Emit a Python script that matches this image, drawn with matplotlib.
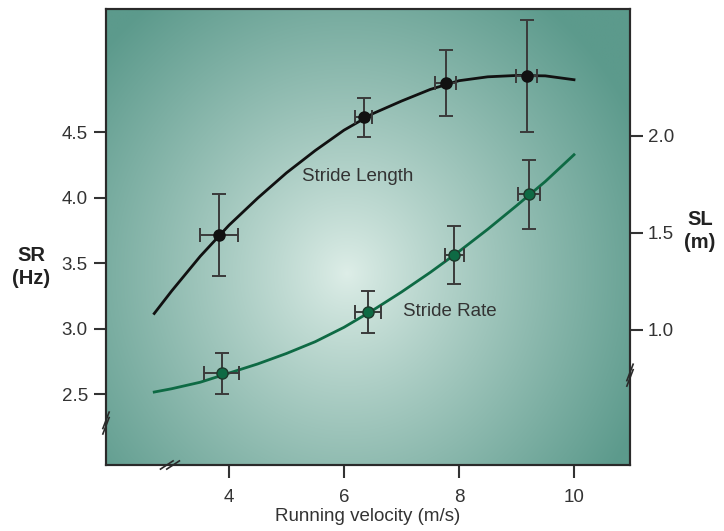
import numpy as np
import matplotlib
matplotlib.use("Agg")
import matplotlib.pyplot as plt

plt.rcParams['font.family'] = ['Liberation Sans', 'DejaVu Sans']

# ---- data ----
sl_velocity = [3.82, 6.34, 7.77, 9.18]
sl_velocity_err = [0.33, 0.15, 0.18, 0.18]
sl_length = [1.49, 2.096, 2.275, 2.309]
sl_length_err = [0.21, 0.10, 0.17, 0.29]

sr_velocity = [3.87, 6.42, 7.92, 9.22]
sr_velocity_err = [0.31, 0.23, 0.165, 0.195]
sr_rate = [2.658, 3.127, 3.563, 4.027]
sr_rate_err = [0.155, 0.157, 0.22, 0.264]

curve_velocity = [2.7, 3.0, 3.5, 4.0, 4.5, 5.0, 5.5, 6.0, 6.5, 7.0, 7.5, 8.0, 8.5, 9.0, 9.5, 10.0]
sl_curve = [1.085, 1.20, 1.38, 1.54, 1.68, 1.81, 1.925, 2.03, 2.115, 2.18, 2.24, 2.285, 2.305, 2.312, 2.31, 2.29]
sr_curve = [2.515, 2.54, 2.59, 2.66, 2.73, 2.81, 2.90, 3.01, 3.14, 3.28, 3.43, 3.59, 3.76, 3.94, 4.125, 4.33]

x_ticks = [4, 6, 8, 10]
sr_ticks = [2.5, 3.0, 3.5, 4.0, 4.5]
sl_ticks = [1.0, 1.5, 2.0]

TEXT = '#333333'
SR_COLOR = '#0e6a44'

fig = plt.figure(figsize=(7.24, 5.31), dpi=100)
ax = fig.add_axes([106/724, 1-465/531, 524/724, 456/531])
ax2 = ax.twinx()

# background radial gradient
ny, nx = 300, 300
yy, xx = np.mgrid[0:1:ny*1j, 0:1:nx*1j]
r = np.sqrt(((xx-0.46)/0.62)**2 + ((yy-0.42)/0.75)**2)
t = np.clip(r, 0, 1)**0.9
c_center = np.array([222, 238, 232])/255
c_edge = np.array([92, 154, 140])/255
img = c_center[None, None, :]*(1-t[..., None]) + c_edge[None, None, :]*t[..., None]
ax.imshow(img, extent=[0, 1, 0, 1], transform=ax.transAxes, origin='lower',
          aspect='auto', zorder=0, interpolation='bilinear')

ax.set_xlim(1.861, 10.974)
ax.set_ylim(1.957, 5.4445)
ax2.set_ylim(0.304, 2.6546)

# Stride rate (left axis)
ax.plot(curve_velocity, sr_curve, color=SR_COLOR, lw=2.0, zorder=3)
ax.errorbar(sr_velocity, sr_rate, yerr=sr_rate_err, xerr=sr_velocity_err,
            fmt='o', color=SR_COLOR, mec='#1d3a2c', ms=8, ecolor='#3a3a3a',
            elinewidth=1.4, capsize=5, capthick=1.4, zorder=4)

# Stride length (right axis)
ax2.plot(curve_velocity, sl_curve, color='#111111', lw=2.0, zorder=3)
ax2.errorbar(sl_velocity, sl_length, yerr=sl_length_err, xerr=sl_velocity_err,
             fmt='o', color='#111111', ms=8, ecolor='#3a3a3a',
             elinewidth=1.4, capsize=5, capthick=1.4, zorder=4)

ax.text(6.24, 4.16, 'Stride Length', fontsize=13.5, color=TEXT, ha='center', va='center', zorder=5)
ax.text(7.84, 3.13, 'Stride Rate', fontsize=13.5, color=TEXT, ha='center', va='center', zorder=5)

# ticks
ax.set_xticks(x_ticks)
ax.set_xticklabels([str(v) for v in x_ticks])
ax.set_yticks(sr_ticks)
ax.set_yticklabels([f'{v:.1f}' for v in sr_ticks])
ax2.set_yticks(sl_ticks)
ax2.set_yticklabels([f'{v:.1f}' for v in sl_ticks])

for a in (ax, ax2):
    a.tick_params(direction='out', length=9, width=1.5, color=TEXT,
                  labelsize=13.5, labelcolor=TEXT, pad=4)
    for s in a.spines.values():
        s.set_color('#2a2a2a')
        s.set_linewidth(1.5)
ax.tick_params(axis='x', pad=8)

ax.set_xlabel('Running velocity (m/s)', fontsize=13.5, color=TEXT, labelpad=2)

fig.text(31/724, 1-267/531, 'SR\n(Hz)', fontsize=14.5, fontweight='bold',
         color='#222222', ha='center', va='center', linespacing=1.25)
fig.text(700/724, 1-231/531, 'SL\n(m)', fontsize=14.5, fontweight='bold',
         color='#222222', ha='center', va='center', linespacing=1.25)

# axis break marks
def brk(x, y, dx, dy, off):
    for k in (-1, 1):
        ax.plot([x - dx + k*off[0], x + dx + k*off[0]],
                [y - dy + k*off[1], y + dy + k*off[1]],
                transform=ax.transAxes, color='#2a2a2a', lw=1.2,
                clip_on=False, zorder=6)

brk(0.0, 0.092, 0.006, 0.018, (0.0, 0.006))
brk(1.0, 0.197, 0.006, 0.018, (0.0, 0.006))
brk(0.122, 0.0, 0.012, 0.009, (0.006, 0.0))

fig.savefig('out.png', dpi=100)
